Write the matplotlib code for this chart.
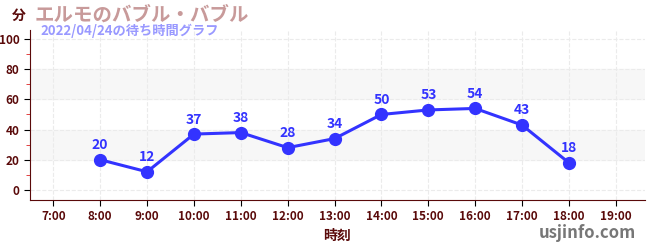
import matplotlib
matplotlib.use('Agg')
import matplotlib.pyplot as plt
from matplotlib.ticker import MultipleLocator

plt.rcParams['font.family'] = ['Noto Sans CJK JP', 'DejaVu Sans']

# data
hours = [8, 9, 10, 11, 12, 13, 14, 15, 16, 17, 18]
waits = [20, 12, 37, 38, 28, 34, 50, 53, 54, 43, 18]
tick_hours = list(range(7, 20))
tick_labels = ['%d:00' % h for h in tick_hours]

dark = '#5a0a0a'
blue = '#3333ff'

fig = plt.figure(figsize=(6.5, 2.5), dpi=100)
ax = fig.add_axes([0.046, 0.2, 0.946, 0.68])

# background bands
ax.axhspan(20, 40, color='#f7f7f7', zorder=0)
ax.axhspan(60, 80, color='#f7f7f7', zorder=0)

ax.plot(hours, waits, color=blue, lw=2.2, marker='o', ms=8.5, zorder=3)
for h, w in zip(hours, waits):
    ax.text(h, w + 5, str(w), ha='center', va='bottom', color=blue,
            fontsize=10, fontweight='bold', zorder=4)

ax.set_xlim(6.5, 19.62)
ax.set_ylim(-6.7, 106)
ax.set_xticks(tick_hours)
ax.set_xticklabels(tick_labels)
ax.set_yticks(range(0, 101, 20))
ax.yaxis.set_minor_locator(MultipleLocator(10))
ax.tick_params(axis='both', labelsize=8.5, labelcolor=dark, color='black', length=4)
ax.tick_params(axis='y', which='minor', length=3, color='#dd2222')
for lab in ax.get_xticklabels() + ax.get_yticklabels():
    lab.set_fontweight('bold')

ax.grid(True, which='major', color='#ebebeb', ls='--', lw=0.8, zorder=1)
for s in ['top', 'right']:
    ax.spines[s].set_visible(False)
ax.spines['left'].set_color(dark)
ax.spines['bottom'].set_color(dark)

ax.set_xlabel('時刻', color=dark, fontsize=10, fontweight='bold', labelpad=4)

fig.text(0.018, 0.935, '分', color=dark, fontsize=10, fontweight='bold', va='center')
fig.text(0.053, 0.94, 'エルモのバブル・バブル', color='#c89a9a', fontsize=14,
         fontweight='bold', va='center')
fig.text(0.062, 0.875, '2022/04/24の待ち時間グラフ', color='#9999ff', fontsize=9.5,
         fontweight='bold', va='center')
fig.text(0.978, 0.07, 'usjinfo.com', color='#777777', fontsize=12,
         fontweight='bold', ha='right', va='center')

fig.savefig('out.png', dpi=100)
